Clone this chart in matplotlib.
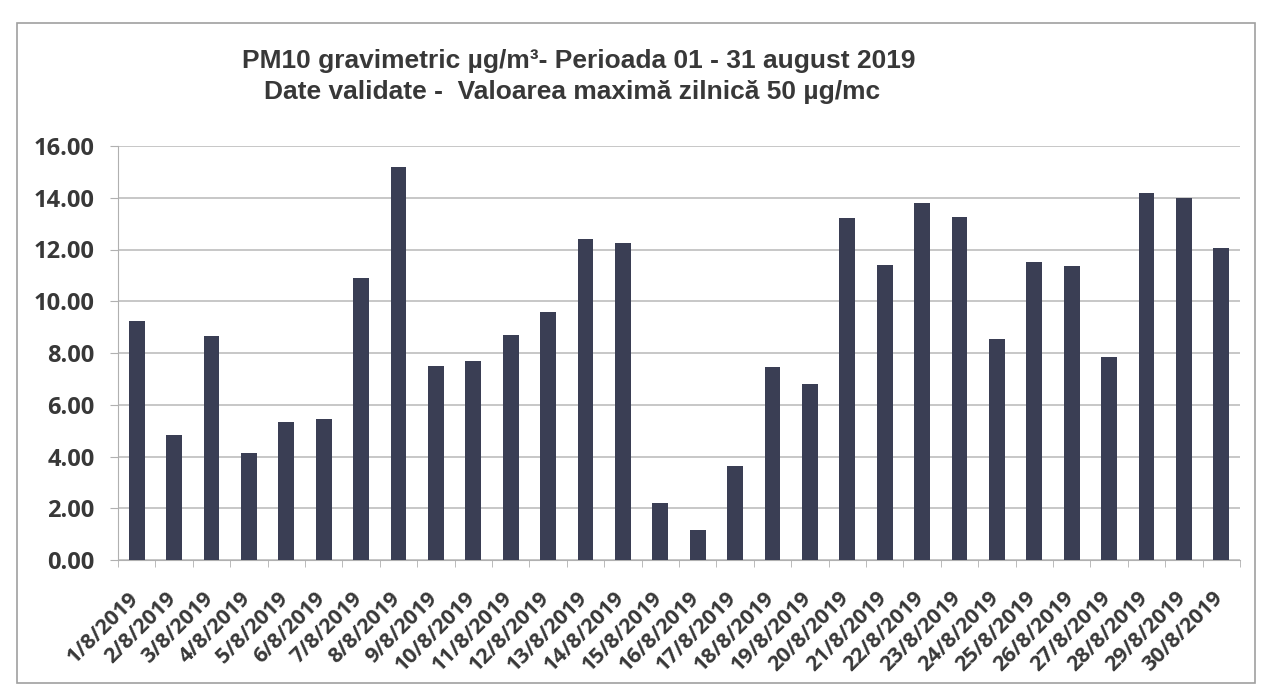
import matplotlib.pyplot as plt
from matplotlib.patches import Rectangle
from matplotlib.transforms import ScaledTranslation

# Data
dates = [f'{d}/8/2019' for d in range(1, 31)]
pm10 = [9.25, 4.85, 8.65, 4.15, 5.35, 5.45, 10.9, 15.2, 7.5, 7.7,
        8.7, 9.6, 12.4, 12.25, 2.2, 1.15, 3.65, 7.45, 6.8, 13.2,
        11.4, 13.8, 13.25, 8.55, 11.5, 11.35, 7.85, 14.2, 14.0, 12.05]
yticks = [0, 2, 4, 6, 8, 10, 12, 14, 16]

fig = plt.figure(figsize=(12.63, 6.94), dpi=100)
ax = fig.add_axes([118 / 1263, 1 - 560 / 694, 1122 / 1263, 414 / 694])

x = range(len(dates))
ax.bar(x, pm10, width=0.42, color='#3a3e54', zorder=3)

ax.set_xlim(-0.5, len(dates) - 0.5)
ax.set_ylim(0, 16)
ax.set_yticks(yticks)
ax.set_yticklabels([f'{v:.2f}' for v in yticks], fontsize=17,
                   fontweight='bold', family='Open Sans', color='#383838')
ax.yaxis.grid(True, color='#b8b8b8', linewidth=1.1, zorder=0)

ax.set_xticks(list(x))
ax.set_xticklabels(dates, rotation=45, ha='right', rotation_mode='anchor',
                   fontsize=15.5, fontweight='bold', family='Open Sans',
                   color='#383838')
ax.tick_params(axis='x', length=0, pad=20)
ax.tick_params(axis='y', length=6, color='#b0b0b0', pad=11)
shift = ScaledTranslation(-0.09, 0, fig.dpi_scale_trans)
for lbl in ax.get_xticklabels():
    lbl.set_transform(lbl.get_transform() + shift)
# category boundary tick marks
ax.set_xticks([i - 0.5 for i in range(len(dates) + 1)], minor=True)
ax.tick_params(axis='x', which='minor', length=5, color='#b0b0b0')

for s in ['top', 'right']:
    ax.spines[s].set_visible(False)
for s in ['left', 'bottom']:
    ax.spines[s].set_color('#b0b0b0')

fig.text(0.458, 0.912, 'PM10 gravimetric µg/m³- Perioada 01 - 31 august 2019',
         ha='center', va='center', fontsize=19, fontweight='bold',
         family='Liberation Sans', color='#383838')
fig.text(0.453, 0.868, 'Date validate -  Valoarea maximă zilnică 50 µg/mc',
         ha='center', va='center', fontsize=19, fontweight='bold',
         family='Liberation Sans', color='#383838')

# outer chart border
fig.patches.append(Rectangle((17 / 1263, 1 - 683 / 694), 1238 / 1263, 660 / 694,
                             transform=fig.transFigure, fill=False,
                             edgecolor='#a0a0a0', linewidth=1.2))

fig.savefig('out.png', dpi=100)
